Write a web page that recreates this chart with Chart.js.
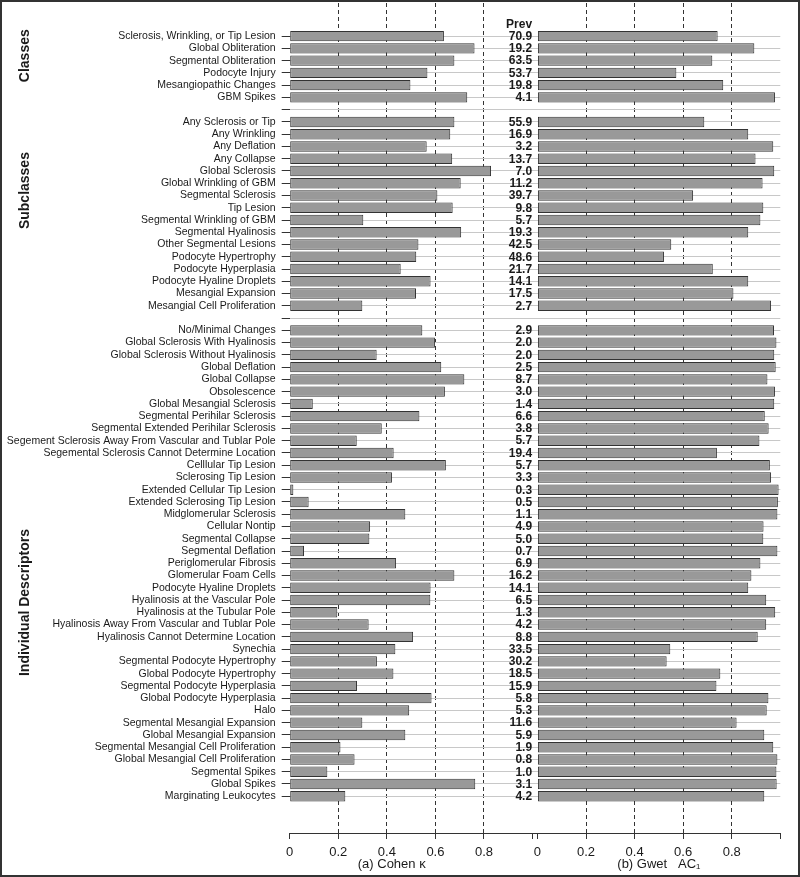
<!DOCTYPE html>
<html>
<head>
<meta charset="utf-8">
<script src="https://cdn.jsdelivr.net/npm/chart.js@4.4.0/dist/chart.umd.min.js"></script>
<style>
  html, body { margin: 0; padding: 0; background: #fff; }
  #wrap { position: relative; width: 800px; height: 877px; }
  #frame { position: absolute; left: 0; top: 0; width: 800px; height: 877px;
           box-sizing: border-box; border: 2px solid #333; pointer-events: none; }
</style>
</head>
<body>
<div id="wrap">
  <canvas id="chart" width="800" height="877"></canvas>
  <div id="frame"></div>
</div>
<script>
// --- data ---
const classLabels = ['Sclerosis, Wrinkling, or Tip Lesion', 'Global Obliteration', 'Segmental Obliteration',
  'Podocyte Injury', 'Mesangiopathic Changes', 'GBM Spikes'];
const classKappa = [0.635, 0.761, 0.678, 0.567, 0.497, 0.731];
const classGwet  = [0.742, 0.893, 0.720, 0.572, 0.765, 0.978];
const classPrev  = [70.9, 19.2, 63.5, 53.7, 19.8, 4.1];

const subLabels = ['Any Sclerosis or Tip', 'Any Wrinkling', 'Any Deflation', 'Any Collapse', 'Global Sclerosis',
  'Global Wrinkling of GBM', 'Segmental Sclerosis', 'Tip Lesion', 'Segmental Wrinkling of GBM',
  'Segmental Hyalinosis', 'Other Segmental Lesions', 'Podocyte Hypertrophy', 'Podocyte Hyperplasia',
  'Podocyte Hyaline Droplets', 'Mesangial Expansion', 'Mesangial Cell Proliferation'];
const subKappa = [0.678, 0.661, 0.564, 0.669, 0.829, 0.704, 0.608, 0.671, 0.303, 0.706, 0.530, 0.521, 0.457, 0.580, 0.520, 0.299];
const subGwet  = [0.687, 0.868, 0.971, 0.898, 0.975, 0.927, 0.641, 0.930, 0.918, 0.868, 0.551, 0.521, 0.722, 0.868, 0.807, 0.962];
const subPrev  = [55.9, 16.9, 3.2, 13.7, 7.0, 11.2, 39.7, 9.8, 5.7, 19.3, 42.5, 48.6, 21.7, 14.1, 17.5, 2.7];

const indLabels = ['No/Minimal Changes', 'Global Sclerosis With Hyalinosis', 'Global Sclerosis Without Hyalinosis',
  'Global Deflation', 'Global Collapse', 'Obsolescence', 'Global Mesangial Sclerosis', 'Segmental Perihilar Sclerosis',
  'Segmental Extended Perihilar Sclerosis', 'Segement Sclerosis Away From Vascular and Tublar Pole',
  'Segemental Sclerosis Cannot Determine Location', 'Celllular Tip Lesion', 'Sclerosing Tip Lesion',
  'Extended Cellular Tip Lesion', 'Extended Sclerosing Tip Lesion', 'Midglomerular Sclerosis', 'Cellular Nontip',
  'Segmental Collapse', 'Segmental Deflation', 'Periglomerular Fibrosis', 'Glomerular Foam Cells',
  'Podocyte Hyaline Droplets', 'Hyalinosis at the Vascular Pole', 'Hyalinosis at the Tubular Pole',
  'Hyalinosis Away From Vascular and Tublar Pole', 'Hyalinosis Cannot Determine Location', 'Synechia',
  'Segmental Podocyte Hypertrophy', 'Global Podocyte Hypertrophy', 'Segmental Podocyte Hyperplasia',
  'Global Podocyte Hyperplasia', 'Halo', 'Segmental Mesangial Expansion', 'Global Mesangial Expansion',
  'Segmental Mesangial Cell Proliferation', 'Global Mesangial Cell Proliferation', 'Segmental Spikes',
  'Global Spikes', 'Marginating Leukocytes'];
const indKappa = [0.546, 0.598, 0.358, 0.624, 0.719, 0.639, 0.095, 0.534, 0.379, 0.276, 0.428, 0.643, 0.421,
  0.015, 0.078, 0.476, 0.331, 0.328, 0.059, 0.438, 0.678, 0.580, 0.579, 0.196, 0.325, 0.508, 0.435, 0.359,
  0.427, 0.277, 0.584, 0.492, 0.299, 0.476, 0.209, 0.267, 0.155, 0.764, 0.229];
const indGwet = [0.974, 0.984, 0.975, 0.981, 0.947, 0.978, 0.975, 0.936, 0.952, 0.914, 0.739, 0.957, 0.962,
  0.993, 0.990, 0.988, 0.931, 0.930, 0.988, 0.918, 0.881, 0.868, 0.942, 0.979, 0.942, 0.907, 0.547, 0.532,
  0.753, 0.737, 0.951, 0.944, 0.820, 0.934, 0.971, 0.988, 0.984, 0.985, 0.934];
const indPrev = [2.9, 2.0, 2.0, 2.5, 8.7, 3.0, 1.4, 6.6, 3.8, 5.7, 19.4, 5.7, 3.3, 0.3, 0.5, 1.1, 4.9, 5.0, 0.7,
  6.9, 16.2, 14.1, 6.5, 1.3, 4.2, 8.8, 33.5, 30.2, 18.5, 15.9, 5.8, 5.3, 11.6, 5.9, 1.9, 0.8, 1.0, 3.1, 4.2];

const groupNames = ['Classes', 'Subclasses', 'Individual Descriptors'];
const xTicks = [0, 0.2, 0.4, 0.6, 0.8, 1];

// one blank row between groups
const labels = [...classLabels, '', ...subLabels, '', ...indLabels];
const kappa  = [...classKappa, null, ...subKappa, null, ...indKappa];
const gwet   = [...classGwet, null, ...subGwet, null, ...indGwet];
const prev   = [...classPrev, null, ...subPrev, null, ...indPrev];

const FONT = '"Liberation Sans", Arial, Helvetica, sans-serif';
const INK = '#1a1a1a';

const gridColor = c => (c.tick && c.tick.value > 0 && c.tick.value < 0.9) ? '#333' : 'rgba(0,0,0,0)';
const tickLabel = v => v > 0.9 ? '' : (v === 0 ? '0' : v.toFixed(1));

const xAxis = (min, weight) => ({
  type: 'linear', position: 'bottom', stack: 'panels', stackWeight: weight,
  min: min, max: 1,
  afterBuildTicks: s => { s.ticks = xTicks.map(v => ({ value: v })); },
  ticks: { padding: 6, color: INK, font: { family: FONT, size: 13 }, callback: tickLabel, maxRotation: 0 },
  grid: { color: gridColor, lineWidth: 1, tickColor: '#333', tickLength: 6 },
  border: { display: true, color: '#333', width: 1, dash: [4, 3] }
});

const annotate = {
  id: 'annotate',
  afterDraw(chart) {
    const { ctx, scales: { x, x2, y } } = chart;
    ctx.save();
    ctx.fillStyle = INK;
    ctx.textBaseline = 'middle';

    // prevalence column
    ctx.font = 'bold 12px ' + FONT;
    ctx.textAlign = 'right';
    const px = x.right - 0.5;
    ctx.fillText('Prev', px, y.getPixelForValue(-0.9));
    prev.forEach((p, i) => {
      if (p !== null) ctx.fillText(p.toFixed(1), px, y.getPixelForValue(i) + 0.5);
    });

    // group titles
    const at = [1.6, 12.6, 46.2];
    ctx.font = 'bold 14px ' + FONT;
    ctx.textAlign = 'center';
    groupNames.forEach((g, i) => {
      ctx.save();
      ctx.translate(25, y.getPixelForValue(at[i]));
      ctx.rotate(-Math.PI / 2);
      ctx.fillText(g, 0, 0);
      ctx.restore();
    });

    // axis titles
    ctx.font = '13px ' + FONT;
    ctx.fillText('(a) Cohen \u03BA', x.getPixelForValue(0.42), chart.height - 12.5);
    ctx.fillText('(b) Gwet   AC\u2081', x2.getPixelForValue(0.5), chart.height - 12.5);
    ctx.restore();
  }
};

const barStyle = {
  grouped: false, categoryPercentage: 1, barPercentage: 0.85,
  backgroundColor: '#999999', borderColor: '#333333', borderWidth: 1, borderSkipped: false
};

new Chart(document.getElementById('chart').getContext('2d'), {
  type: 'bar',
  data: {
    datasets: [
      { label: 'Cohen kappa', xAxisID: 'x', data: kappa.map((v, i) => ({ x: v, y: i })), ...barStyle },
      { label: 'Gwet AC1', xAxisID: 'x2', data: gwet.map((v, i) => ({ x: v, y: i })), ...barStyle }
    ]
  },
  options: {
    indexAxis: 'y',
    responsive: false,
    animation: false,
    layout: { padding: { left: 0, right: 19.7, top: 3, bottom: 10.4 } },
    plugins: { legend: { display: false }, tooltip: { enabled: false } },
    scales: {
      x: xAxis(0, 1),
      x2: xAxis(-0.02, 1.02),
      y: {
        type: 'linear', min: -2.7, max: 65, reverse: true, offset: false,
        afterBuildTicks: s => { s.ticks = labels.map((_, i) => ({ value: i })); },
        afterFit: s => { s.width = 289.7; s.paddingTop = 0; s.paddingBottom = 0; },
        ticks: { autoSkip: false, padding: 6, color: INK, font: { family: FONT, size: 10.5 },
                 callback: v => labels[v] },
        grid: { offset: false, color: '#c8c8c8', lineWidth: 1, tickColor: '#333', tickLength: 8 },
        border: { display: false }
      }
    }
  },
  plugins: [annotate]
});
</script>
</body>
</html>
